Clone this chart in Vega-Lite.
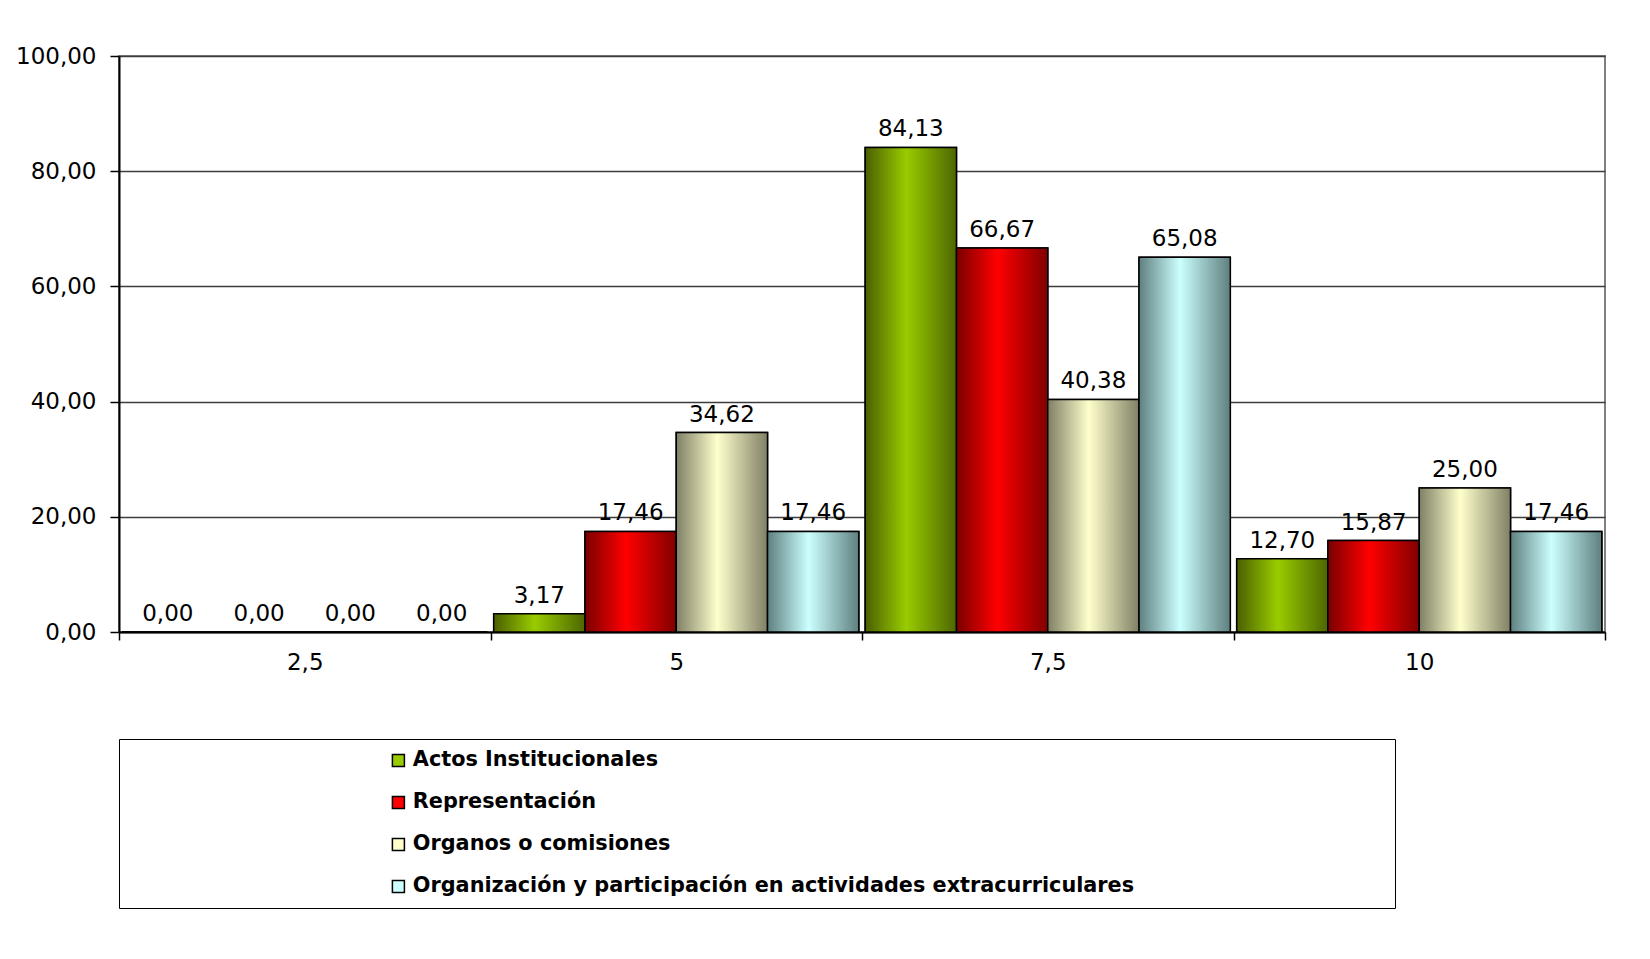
{
  "$schema": "https://vega.github.io/schema/vega-lite/v6.json",
  "width": 1486,
  "height": 576,
  "autosize": {"type": "none"},
  "padding": {"left": 119, "top": 56, "right": 45, "bottom": 327},
  "background": "white",
  "config": {
    "locale": {"number": {"decimal": ",", "thousands": ".", "grouping": [3], "currency": ["", " €"]}},
    "font": "DejaVu Sans",
    "view": {"stroke": "#808080", "strokeWidth": 2}
  },
  "data": {
    "values": [
      {"nota": "2,5", "serie": "Actos Institucionales", "valor": 0},
      {"nota": "2,5", "serie": "Representación", "valor": 0},
      {"nota": "2,5", "serie": "Organos o comisiones", "valor": 0},
      {"nota": "2,5", "serie": "Organización y participación en actividades extracurriculares", "valor": 0},
      {"nota": "5", "serie": "Actos Institucionales", "valor": 3.17},
      {"nota": "5", "serie": "Representación", "valor": 17.46},
      {"nota": "5", "serie": "Organos o comisiones", "valor": 34.62},
      {"nota": "5", "serie": "Organización y participación en actividades extracurriculares", "valor": 17.46},
      {"nota": "7,5", "serie": "Actos Institucionales", "valor": 84.13},
      {"nota": "7,5", "serie": "Representación", "valor": 66.67},
      {"nota": "7,5", "serie": "Organos o comisiones", "valor": 40.38},
      {"nota": "7,5", "serie": "Organización y participación en actividades extracurriculares", "valor": 65.08},
      {"nota": "10", "serie": "Actos Institucionales", "valor": 12.70},
      {"nota": "10", "serie": "Representación", "valor": 15.87},
      {"nota": "10", "serie": "Organos o comisiones", "valor": 25.00},
      {"nota": "10", "serie": "Organización y participación en actividades extracurriculares", "valor": 17.46}
    ]
  },
  "encoding": {
    "x": {
      "field": "nota", "type": "nominal", "sort": ["2,5", "5", "7,5", "10"],
      "scale": {"paddingInner": 0, "paddingOuter": 0},
      "axis": {"title": null, "labelAngle": 0, "labelFontSize": 23, "labelColor": "black", "tickBand": "extent", "tickSize": 8, "tickColor": "black", "tickWidth": 1.5, "domainColor": "black", "domainWidth": 2, "labelPadding": 11, "grid": false}
    },
    "xOffset": {
      "field": "serie", "type": "nominal",
      "scale": {"domain": ["Actos Institucionales", "Representación", "Organos o comisiones", "Organización y participación en actividades extracurriculares"], "paddingInner": 0, "paddingOuter": 0.035}
    },
    "y": {
      "field": "valor", "type": "quantitative",
      "scale": {"domain": [0, 100], "nice": false},
      "axis": {"title": null, "values": [0, 20, 40, 60, 80, 100], "format": ".2f", "labelFontSize": 23, "labelColor": "black", "tickSize": 9, "tickColor": "black", "tickWidth": 1.5, "domainColor": "black", "domainWidth": 2, "labelPadding": 14, "grid": true, "gridColor": "#3c3c3c", "gridWidth": 1.5}
    }
  },
  "layer": [
    {
      "mark": {"type": "bar", "stroke": "black", "strokeWidth": 1.5},
      "encoding": {
        "color": {
          "field": "serie", "type": "nominal",
          "scale": {"domain": ["Actos Institucionales", "Representación", "Organos o comisiones", "Organización y participación en actividades extracurriculares"], "range": ["#99cc00", "#ff0000", "#ffffcc", "#ccffff"]},
          "legend": {"orient": "none", "legendX": 0, "legendY": 683, "title": " ", "titleOrient": "right", "titlePadding": 250, "padding": 11, "strokeColor": "black", "fillColor": "white", "symbolType": "square", "symbolSize": 144, "symbolStrokeColor": "black", "symbolStrokeWidth": 1.5, "labelFont": "DejaVu Sans", "labelFontSize": 20.8, "labelFontWeight": "bold", "labelColor": "black", "symbolOffset": 258, "rowPadding": 20, "labelOffset": 4, "labelLimit": 0}
        }
      }
    },
    {
      "transform": [{"filter": "datum.serie === 'Actos Institucionales'"}],
      "mark": {"type": "bar", "stroke": "black", "strokeWidth": 1.5, "fill": {"gradient": "linear", "x1": 0, "y1": 0, "x2": 1, "y2": 0, "stops": [{"offset": 0, "color": "#4a5f00"}, {"offset": 0.45, "color": "#99cc00"}, {"offset": 1, "color": "#4d6600"}]}}
    },
    {
      "transform": [{"filter": "datum.serie === 'Representación'"}],
      "mark": {"type": "bar", "stroke": "black", "strokeWidth": 1.5, "fill": {"gradient": "linear", "x1": 0, "y1": 0, "x2": 1, "y2": 0, "stops": [{"offset": 0, "color": "#7a0000"}, {"offset": 0.45, "color": "#ff0000"}, {"offset": 1, "color": "#800000"}]}}
    },
    {
      "transform": [{"filter": "datum.serie === 'Organos o comisiones'"}],
      "mark": {"type": "bar", "stroke": "black", "strokeWidth": 1.5, "fill": {"gradient": "linear", "x1": 0, "y1": 0, "x2": 1, "y2": 0, "stops": [{"offset": 0, "color": "#7f7f66"}, {"offset": 0.45, "color": "#ffffcc"}, {"offset": 1, "color": "#808066"}]}}
    },
    {
      "transform": [{"filter": "datum.serie === 'Organización y participación en actividades extracurriculares'"}],
      "mark": {"type": "bar", "stroke": "black", "strokeWidth": 1.5, "fill": {"gradient": "linear", "x1": 0, "y1": 0, "x2": 1, "y2": 0, "stops": [{"offset": 0, "color": "#5f8080"}, {"offset": 0.45, "color": "#ccffff"}, {"offset": 1, "color": "#5f7f7f"}]}}
    },
    {
      "mark": {"type": "text", "baseline": "bottom", "dy": -6, "fontSize": 23, "color": "black"},
      "encoding": {"text": {"field": "valor", "type": "quantitative", "format": ".2f"}}
    }
  ]
}
